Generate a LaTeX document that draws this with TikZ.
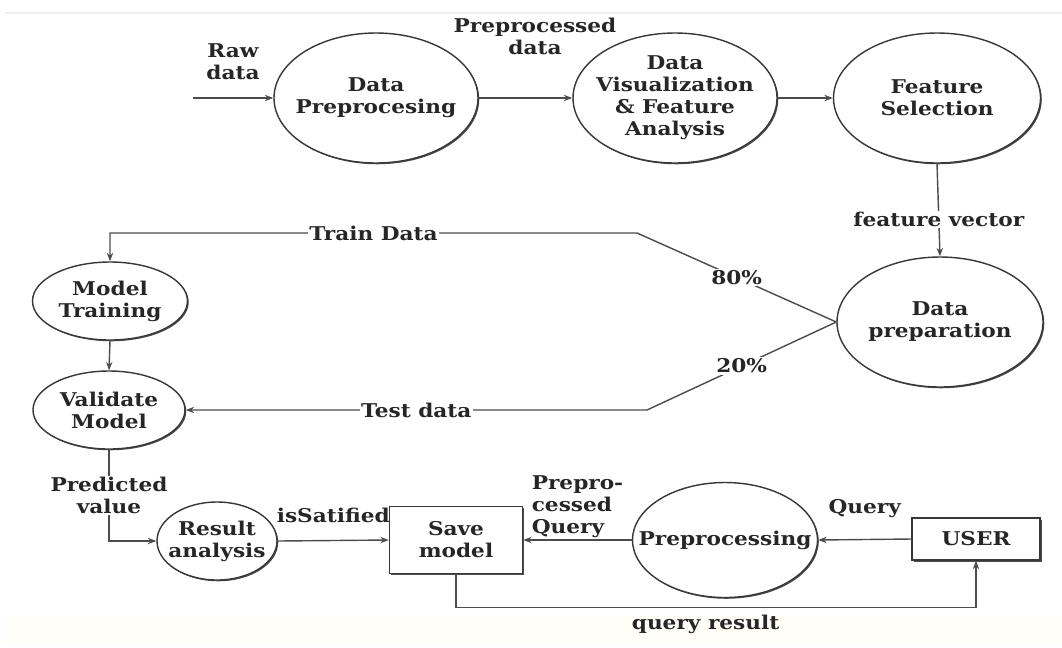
\documentclass[tikz,border=0pt]{standalone}
\usepackage{fontspec}
\setmainfont{DejaVu Serif}[FakeStretch=1.14]
\usetikzlibrary{shapes.geometric, arrows.meta, shadows}
\newcommand{\pxu}{0.025cm}

\begin{document}
\begin{tikzpicture}[x=\pxu, y=-\pxu,
    font=\fontsize{13.5}{15.6}\selectfont\bfseries,
    proc/.style={ellipse, draw=black!78, line width=1pt, fill=white, inner sep=0pt,
      drop shadow={shadow xshift=0.9pt, shadow yshift=-0.9pt, fill=black!70, opacity=1}},
    store/.style={rectangle, draw=black!78, line width=1pt, fill=white, align=center, text=black!85,
      drop shadow={shadow xshift=1.1pt, shadow yshift=-1.1pt, fill=black!70, opacity=1}},
    flow/.style={draw=black!70, line width=1pt, -{Stealth[length=6pt, width=4.5pt]}},
    lbl/.style={fill=white, inner sep=1pt, text=black!85},
    txt/.style={align=center, text=black!85}]

    \useasboundingbox[fill=white] (0,0) rectangle (1062,647);
    \draw[black!6, line width=1pt] (5,13) -- (1062,13);
    \fill[yellow!3] (5,615) rectangle (1062,643);

    % top row
    \node[proc, minimum width=204*\pxu, minimum height=130*\pxu,
      label={[txt]center:Data\\Preprocesing}] (dpre) at (376,98) {};
    \node[proc, minimum width=204*\pxu, minimum height=130*\pxu,
      label={[txt]center:Data\\Visualization\\\& Feature\\Analysis}] (dvis) at (675,98) {};
    \node[proc, minimum width=207*\pxu, minimum height=130*\pxu,
      label={[txt]center:Feature\\Selection}] (fsel) at (937,98) {};
    \node[proc, minimum width=206*\pxu, minimum height=130*\pxu,
      label={[txt]center:Data\\preparation}] (dprep) at (940,322) {};

    % left column
    \node[proc, minimum width=155*\pxu, minimum height=78*\pxu,
      label={[txt]center:Model\\Training}] (mtrain) at (110,301) {};
    \node[proc, minimum width=152*\pxu, minimum height=78*\pxu,
      label={[txt]center:Validate\\Model}] (vmodel) at (109,410) {};

    % bottom row
    \node[proc, minimum width=120*\pxu, minimum height=78*\pxu,
      label={[txt]center:Result\\analysis}] (resan) at (217,541) {};
    \node[store, minimum width=133*\pxu, minimum height=67*\pxu] (save) at (456,540) {Save\\model};
    \node[proc, minimum width=185*\pxu, minimum height=115*\pxu,
      label={[txt]center:Preprocessing}] (prepq) at (725,540) {};
    \node[store, minimum width=128*\pxu, minimum height=42*\pxu] (user) at (976,539) {USER};

    \node[txt] (rawlbl) at (233,62) {Raw\\data};
    \node[txt] (pplbl) at (535,36) {Preprocessed\\data};

    \coordinate (rawin) at (193,98);
    \coordinate (trbend) at (637,233);
    \coordinate (tsbend) at (647,410);

    \draw[flow] (rawin) -- (dpre.west);
    \draw[flow] (dpre.east) -- (dvis.west);
    \draw[flow] (dvis.east) -- (fsel.west);
    \draw[flow] (fsel.south) -- (dprep.north) node[lbl, pos=0.6] {feature vector};

    \draw[flow] (dprep.west) -- (trbend) node[lbl, midway] {80\%}
      -- (trbend -| mtrain.north) node[lbl, midway] {Train Data} -- (mtrain.north);
    \draw[flow] (dprep.west) -- (tsbend) node[lbl, midway] {20\%}
      -- (vmodel.east) node[lbl, midway] {Test data};
    \draw[flow] (mtrain.south) -- (vmodel.north);
    \draw[flow] (vmodel.south) -- (vmodel.south |- resan.west)
      node[lbl, midway, align=center] {Predicted\\value} -- (resan.west);

    \draw[flow] (resan.east) -- (save.west) node[txt, midway, above=9pt] {isSatified};
    \draw[flow] (prepq.west) -- (save.east)
      node[txt, midway, above=1pt, inner sep=0pt, align=left] {Prepro-\\cessed\\Query};
    \draw[flow] (user.west) -- (prepq.east) node[txt, midway, above=12pt] {Query};
    \draw[flow] (save.south) -- ++(0,33) coordinate (qr)
      -- (qr -| user.south) node[txt, pos=0.48, below=2pt] {query result} -- (user.south);

\end{tikzpicture}
\end{document}
